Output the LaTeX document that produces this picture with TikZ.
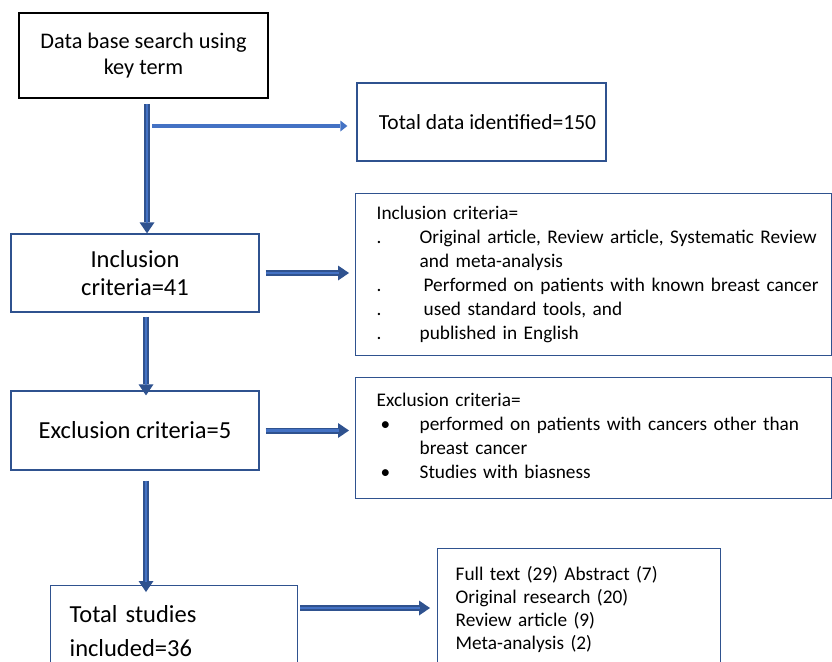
\documentclass[tikz,border=0pt]{standalone}
\usepackage{fontspec}
\setmainfont{Carlito}
\usetikzlibrary{arrows.meta,positioning}
\definecolor{boxblue}{HTML}{2F528F}
\definecolor{arrowfill}{HTML}{4472C4}
\newcommand{\crit}[1]{\fontsize{#1}{24}\selectfont}
\tikzset{
  stagebox/.style={draw=boxblue, line width=1.3pt, inner sep=0pt, minimum width=248pt, minimum height=78pt, align=center, font=\fontsize{24.5}{28}\selectfont},
  listbox/.style={draw=boxblue, line width=1.3pt, anchor=north west, inner xsep=21pt, inner ysep=0pt, align=left, font=\crit{19.3}},
  flow/.style={line width=6pt, draw=boxblue, -{Triangle[length=11pt,width=15pt,line width=0pt]}, postaction={draw=arrowfill, line width=2.6pt, shorten >=10pt, -}},
  thinflow/.style={line width=4pt, draw=arrowfill, -{Triangle[length=7pt,width=11pt,line width=0pt]}}
}
\begin{document}
\begin{tikzpicture}[x=1pt, y=-1pt]
  \clip (0,0) rectangle (832,661);
  \fill[white] (0,0) rectangle (832,661);
  % Left column
  \node[draw=black, line width=1.6pt, minimum width=249pt, minimum height=85pt, align=center, font=\fontsize{22.3}{26}\selectfont] (search) at (143.5,55.5) {Data base search using\\key term};
  \node[stagebox] (incl) at (135,273) {Inclusion\\criteria=41};
  \node[stagebox, minimum height=79pt] (excl) at (135,430.5) {Exclusion criteria=5};
  \node[stagebox, minimum width=247pt, minimum height=90pt, align=left, anchor=north west, inner xsep=19pt, text width=209pt, font=\fontsize{24.5}{34}\selectfont] (studies) at (50,585) {Total studies\\included=36};
  % Right column
  \node[stagebox, minimum width=249pt, font=\fontsize{21.5}{24}\selectfont] (total) at (481.5,122) {\hspace*{12pt}Total data identified=150};
  \node[listbox, minimum width=476pt, minimum height=162pt, text width=434pt] (inclcrit) at (355,193) {%
    \begin{tabular}{@{}p{43pt}@{}l@{}}
      \multicolumn{2}{@{}l}{Inclusion criteria=}\\
      . & Original article, Review article, Systematic Review\\
       & and meta-analysis\\
      . & \hspace{4pt}Performed on patients with known breast cancer\\
      . & \hspace{4pt}used standard tools, and\\
      . & published in English
    \end{tabular}};
  \node[listbox, minimum width=476pt, minimum height=121pt, text width=434pt] (exclcrit) at (355,377) {%
    \begin{tabular}{@{}p{43pt}@{}l@{}}
      \multicolumn{2}{@{}l}{Exclusion criteria=}\\
      \hspace*{4pt}\textbullet & performed on patients with cancers other than\\
       & breast cancer\\
      \hspace*{4pt}\textbullet & Studies with biasness
    \end{tabular}};
  \node[listbox, minimum width=283pt, minimum height=122pt, inner xsep=18pt, text width=247pt] (summary) at (437,548) {%
    Full text (29) Abstract (7)\\[-1pt]
    Original research (20)\\[-1pt]
    Review article (9)\\[-1pt]
    Meta-analysis (2)};
  % Arrows down
  \coordinate (branch) at (147,126);
  \draw[flow] (search.south -| branch) ++(0,5) -- (incl.north -| branch);
  \draw[flow] (incl.south -| 146,0) ++(0,4) -- ([yshift=-5pt]excl.north -| 146,0);
  \draw[flow] (excl.south -| 146,0) ++(0,10) -- ([yshift=-7pt]studies.north -| 146,0);
  % Arrows right
  \draw[thinflow] ([xshift=5pt]branch) -- ([xshift=-9pt]total.west |- branch);
  \draw[flow] ([xshift=6pt]incl.east) -- ([xshift=-6pt]inclcrit.west |- incl.east);
  \draw[flow] ([xshift=6pt]excl.east) -- ([xshift=-6pt]exclcrit.west |- excl.east);
  \draw[flow] (studies.east |- 0,608) ++(2,0) -- ([xshift=-7pt]summary.west |- 0,608);
\end{tikzpicture}
\end{document}
